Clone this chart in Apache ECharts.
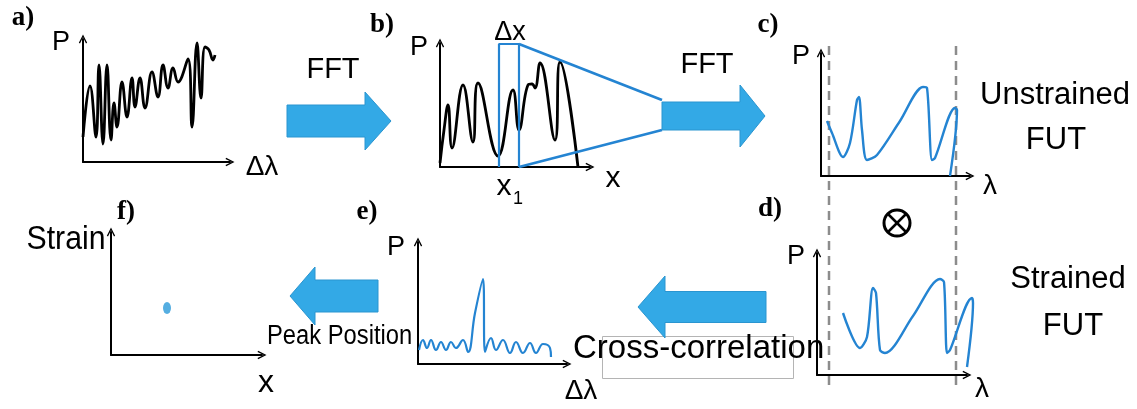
<!DOCTYPE html>
<html>
<head>
<meta charset="utf-8">
<script src="https://cdn.jsdelivr.net/npm/echarts@6/dist/echarts.min.js"></script>
<style>html,body{margin:0;padding:0;background:#fff}#c{width:1137px;height:409px}</style>
</head>
<body>
<div id="c"></div>
<script>
// ---- data (offsets along each panel's axes) ----
const curveA = [[0,25],[7,76],[13,25],[16,97],[20,18],[24,97],[28,22],[31,59],[34,35],[39,80],[44,45],[49,84],[52,55],[57,84],[62,54],[69,90],[75,65],[80,97],[85,74],[90,94],[95,80],[105,103],[109,35],[114,119],[118,64],[122,115],[126,112],[130,102],[132,107]];
const curveB = [[0,4],[4,37],[8,62],[12,19],[23,82],[33,25],[38,84],[58,11],[73,77],[79,37],[88,82],[92,83],[95,79],[100,104],[115,27],[120,105],[138,0]];
const windowB = [[59,0],[59,123],[79,123],[79,0]];
const funnelTop = [[79,123],[222,67]];
const funnelBottom = [[79,0],[222,37]];
const curveC = [[6,55],[11,43],[22,19],[29,33],[36,76],[38,79],[41,46],[46,16],[56,21],[79,55],[102,89],[106,88],[111,16],[114,18],[134,68],[136,66],[129,0]];
const curveD = [[26,62],[43,27],[50,38],[56,87],[59,82],[63,25],[68,22],[96,59],[123,96],[127,93],[130,22],[133,25],[155,77],[156,72],[150,8]];
const curveE = [[1,14],[5,24],[9,16],[13,24],[18,14],[23,22],[28,14],[33,22],[38,16],[45,24],[50,12],[57,51],[65,85],[67,12],[73,26],[78,14],[85,24],[92,11],[98,22],[105,11],[112,21],[118,11],[125,20],[132,16],[133,7]];
const dotF = [[56,47]];
const dashLeft = [[8,0],[8,343]];
const dashRight = [[135,0],[135,343]];
// panel axes: [x length, y length] and axis origin (pixel corner of each plot)
const axisLengths = [[152,128],[155,129],[154,128],[155,127],[154,127],[156,128]];
const axisOrigins = [[83,162],[440,167],[821,176],[817,375],[418,364],[111,355]];

const BLUE = '#2484d2';
const ARROW = '#33a9e6';
const FONT = '"Liberation Sans", Arial, sans-serif';
const SERIF = '"Liberation Serif", "Times New Roman", serif';
const chev = 'path://M0,10 L5,0 L10,10 L8.6,10.8 L5,3.4 L1.4,10.8 Z';

const grids = [], xAxes = [], yAxes = [];
axisLengths.forEach((L, i) => {
  const o = axisOrigins[i];
  const w = L[0]-5, h = L[1]-5;
  grids.push({left:o[0], top:o[1]-h, width:w, height:h});
  const ax = {type:'value', gridIndex:i, min:0, splitLine:{show:false}, axisTick:{show:false}, axisLabel:{show:false},
    axisLine:{show:true, onZero:false, symbol:['none', chev], symbolSize:[10,9], lineStyle:{color:'#000', width:2}}};
  xAxes.push(Object.assign({}, ax, {max:w}));
  yAxes.push(Object.assign({}, ax, {max:h}));
});
function overlay(ox, oy, w, h) {
  const i = grids.length;
  grids.push({left:ox, top:oy-h, width:w, height:h});
  xAxes.push({type:'value', gridIndex:i, min:0, max:w, show:false});
  yAxes.push({type:'value', gridIndex:i, min:0, max:h, show:false});
  return i;
}
const gB = overlay(440, 167, 240, 140);
const gD = overlay(817, 375, 175, 140);
const gG = overlay(821, 385, 154, 343);

function line(i, data, color, w, extra) {
  return Object.assign({type:'line', xAxisIndex:i, yAxisIndex:i, data:data, showSymbol:false, symbol:'none',
    smooth:0.3, lineStyle:{color:color, width:w}, clip:false, z:3}, extra || {});
}

const series = [
  line(0, curveA, '#000', 2.8, {smooth:0.45}),
  line(gB, curveB, '#000', 2.8, {smooth:0.45}),
  line(gB, windowB, BLUE, 2.2, {smooth:false}),
  line(gB, funnelTop, BLUE, 2.6, {smooth:false}),
  line(gB, funnelBottom, BLUE, 2.6, {smooth:false}),
  line(2, curveC, BLUE, 2.4),
  line(gD, curveD, BLUE, 2.4),
  line(4, curveE, BLUE, 2.2, {smooth:0.45}),
  {type:'scatter', xAxisIndex:5, yAxisIndex:5, data:dotF, symbol:'circle', symbolSize:[8,12], itemStyle:{color:'#2b9ad9'}},
  line(gG, dashLeft, '#8c8c8c', 2.5, {smooth:false, lineStyle:{color:'#8c8c8c', width:2.5, type:[9,6]}, z:1}),
  line(gG, dashRight, '#8c8c8c', 2.5, {smooth:false, lineStyle:{color:'#8c8c8c', width:2.5, type:[9,6]}, z:1})
];

function txt(s, x, y, size, opts) {
  opts = opts || {};
  return {type:'text', x:x, y:y, scaleX:opts.sx||1, z:10,
    style:{text:s, fontSize:size, fontFamily:opts.family||FONT, fontWeight:opts.weight||'normal', fill:'#000',
      align:opts.align||'center', verticalAlign:'middle'}};
}
function rightArrow(x0, x1, xt, yc, bh, hh) {
  return {type:'polygon', z:5, shape:{points:[[x0,yc-bh],[x1,yc-bh],[x1,yc-hh],[xt,yc],[x1,yc+hh],[x1,yc+bh],[x0,yc+bh]]},
    style:{fill:ARROW, stroke:'#2a95d0', lineWidth:1}};
}
const L = {family:SERIF, weight:'bold'};

const graphic = [
  rightArrow(287, 365, 391, 121, 16, 29),
  rightArrow(662, 740, 765, 116, 14, 31),
  rightArrow(766, 665, 638, 307, 15.5, 31),
  rightArrow(378, 315, 290, 296, 16, 29),
  txt('a)', 23, 18, 27, L),
  txt('b)', 382, 25, 27, L),
  txt('c)', 768, 25, 27, L),
  txt('d)', 770, 209, 27, L),
  txt('e)', 367, 212, 27, L),
  txt('f)', 126, 212, 27, L),
  txt('P', 61, 43, 27), txt('Δλ', 262, 167, 28),
  txt('P', 419, 48, 27), txt('Δx', 510, 33, 27), txt('x', 613, 179, 30),
  txt('x', 504, 187, 30), txt('1', 518, 199, 18),
  txt('P', 801, 57, 27), txt('λ', 990, 186, 28),
  txt('P', 796, 257, 27), txt('λ', 982, 389, 28),
  txt('P', 396, 248, 27), txt('Δλ', 581, 391, 28),
  txt('Strain', 66, 240, 34, {sx:0.89}), txt('x', 266, 383, 32),
  txt('FFT', 333, 70, 29), txt('FFT', 707, 65, 29),
  txt('Unstrained', 1055, 95, 31), txt('FUT', 1056, 140, 31),
  txt('Strained', 1068, 279, 31), txt('FUT', 1073, 326, 31),
  txt('Peak Position', 267, 337, 27, {align:'left', sx:0.88}),
  {type:'rect', z:4, shape:{x:602.5, y:336.5, width:191, height:42}, style:{fill:'none', stroke:'#b4b4b4', lineWidth:1}},
  txt('Cross-correlation', 573, 349, 33, {align:'left'}),
  {type:'circle', z:6, shape:{cx:897, cy:223, r:13}, style:{fill:'none', stroke:'#000', lineWidth:3}},
  {type:'line', z:6, shape:{x1:888, y1:214, x2:906, y2:232}, style:{stroke:'#000', lineWidth:2.5}},
  {type:'line', z:6, shape:{x1:906, y1:214, x2:888, y2:232}, style:{stroke:'#000', lineWidth:2.5}}
];

const chart = echarts.init(document.getElementById('c'), null, {renderer:'canvas'});
chart.setOption({animation:false, backgroundColor:'#fff', grid:grids, xAxis:xAxes, yAxis:yAxes, series:series, graphic:graphic});
</script>
</body>
</html>
